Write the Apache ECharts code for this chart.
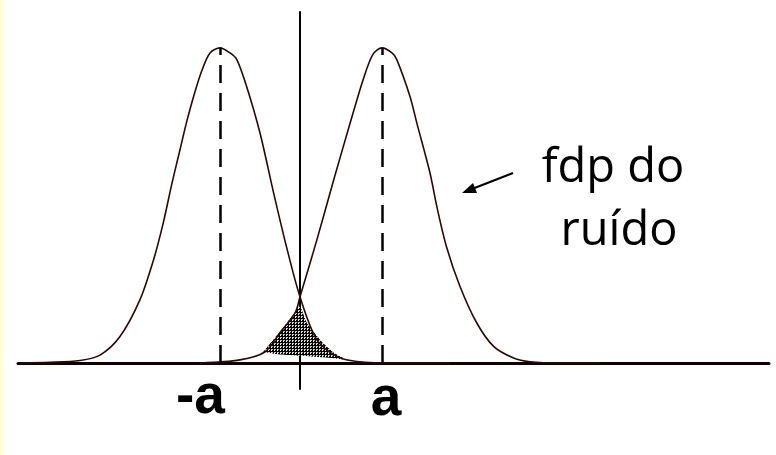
<!DOCTYPE html>
<html>
<head>
<meta charset="utf-8">
<script src="https://cdn.jsdelivr.net/npm/echarts@6/dist/echarts.min.js"></script>
<style>
  html, body { margin: 0; padding: 0; background: #ffffff; }
  #chart { width: 776px; height: 455px; }
</style>
</head>
<body>
<div id="chart"></div>
<script>
// x in units of a (80 px per unit, origin at the vertical axis), y normalised to peak height
const leftX = [-3.5, -3.125, -2.75, -2.5, -2.25, -2.0, -1.83, -1.71, -1.6, -1.5, -1.42, -1.33,
  -1.23, -1.125, -1.0, -0.875, -0.79, -0.67, -0.5, -0.33, -0.17, 0.0, 0.21, 0.46, 0.71, 1.25, 1.88];
const leftY = [0, 0.002, 0.008, 0.025, 0.084, 0.201, 0.328, 0.444, 0.571, 0.677, 0.762, 0.846,
  0.926, 0.984, 1.0, 0.984, 0.963, 0.88, 0.73, 0.54, 0.37, 0.21, 0.074, 0.021, 0.005, 0, 0];

const rightX = [-1.25, -0.75, -0.44, -0.25, -0.06, 0.0, 0.21, 0.42, 0.625, 0.79, 0.91, 1.025,
  1.15, 1.21, 1.375, 1.46, 1.625, 1.71, 1.83, 2.0, 2.21, 2.42, 2.67, 2.875, 3.25, 3.75];
const rightY = [0, 0.01, 0.035, 0.096, 0.16, 0.21, 0.39, 0.58, 0.76, 0.9, 0.979, 1.0,
  0.984, 0.963, 0.846, 0.762, 0.603, 0.497, 0.37, 0.243, 0.127, 0.053, 0.016, 0.004, 0, 0];

// dotted overlap region: top edge left->right, then bottom edge right->left
const shadeTopX = [-0.46, -0.25, -0.08, 0, 0.08, 0.25, 0.42, 0.58];
const shadeTopY = [0.035, 0.1, 0.155, 0.18, 0.13, 0.074, 0.033, 0.01];
const shadeBottomX = [0.58, 0.3, 0, -0.25, -0.46];
const shadeBottomY = [0.01, 0.018, 0.023, 0.027, 0.035];

const peakX = [-1.0, 1.025];
const peakY = [1.0, 1.0];

const tickLabels = ["-a", "a"];
const noteLines = ["fdp do", "ruído"];

const zip = (xs, ys) => xs.map((x, i) => [x, ys[i]]);

function dotPattern() {
  const c = document.createElement("canvas");
  c.width = 3;
  c.height = 3;
  const ctx = c.getContext("2d");
  ctx.fillStyle = "#000000";
  ctx.fillRect(0, 0, 3, 3);
  ctx.fillStyle = "#c8c8c8";
  ctx.fillRect(1, 1, 2, 1);
  ctx.fillStyle = "#ffffff";
  ctx.fillRect(1, 2, 1, 1);
  return { type: "pattern", image: c, repeat: "repeat" };
}

const curveStyle = { color: "#2a0808", width: 1.6 };
const dashStyle = { color: "#000000", width: 2.5, type: [18, 10] };

const chart = echarts.init(document.getElementById("chart"), null, { renderer: "canvas" });
const pattern = dotPattern();

chart.setOption({
  animation: false,
  backgroundColor: "#ffffff",
  grid: { left: 18, right: 7, top: 12, bottom: 66 },
  xAxis: {
    type: "value",
    min: -3.525,
    max: 5.8625,
    axisLine: { show: true, onZero: true, lineStyle: { color: "#120000", width: 3 } },
    axisTick: { show: false },
    axisLabel: { show: false },
    splitLine: { show: false }
  },
  yAxis: {
    type: "value",
    min: -0.0825,
    max: 1.114,
    axisLine: { show: true, onZero: true, lineStyle: { color: "#000000", width: 2 } },
    axisTick: { show: false },
    axisLabel: { show: false },
    splitLine: { show: false }
  },
  series: [
    {
      type: "custom",
      name: "overlap",
      silent: true,
      clip: false,
      data: [[0, 0]],
      renderItem: function (params, api) {
        const pts = zip(shadeTopX, shadeTopY)
          .concat(zip(shadeBottomX, shadeBottomY))
          .map((p) => api.coord(p));
        return {
          type: "polygon",
          shape: { points: pts, smooth: 0.2 },
          style: { fill: pattern, stroke: null }
        };
      }
    },
    {
      type: "line",
      name: "-a",
      data: zip(leftX, leftY),
      smooth: 0.3,
      symbol: "none",
      lineStyle: curveStyle,
      markLine: {
        silent: true,
        symbol: "none",
        label: { show: false },
        lineStyle: dashStyle,
        data: peakX.map((x, i) => [{ coord: [x, 0] }, { coord: [x, peakY[i]] }])
      }
    },
    {
      type: "line",
      name: "a",
      data: zip(rightX, rightY),
      smooth: 0.3,
      symbol: "none",
      lineStyle: curveStyle
    }
  ],
  graphic: [
    { type: "rect", shape: { x: 0, y: 0, width: 4, height: 455 }, style: { fill: "#ffffdc" }, silent: true },
    {
      type: "text",
      style: { x: 176, y: 398, text: tickLabels[0], font: "bold 55px 'Liberation Sans', Arial, sans-serif",
        fill: "#000000", textAlign: "left", textVerticalAlign: "middle" }
    },
    {
      type: "text",
      style: { x: 386, y: 400, text: tickLabels[1], font: "bold 55px 'Liberation Sans', Arial, sans-serif",
        fill: "#000000", textAlign: "center", textVerticalAlign: "middle" }
    },
    {
      type: "text",
      style: { x: 613, y: 169, text: noteLines[0], font: "47px 'Open Sans', sans-serif",
        fill: "#000000", textAlign: "center", textVerticalAlign: "middle" }
    },
    {
      type: "text",
      style: { x: 619, y: 232, text: noteLines[1], font: "47px 'Open Sans', sans-serif",
        fill: "#000000", textAlign: "center", textVerticalAlign: "middle" }
    },
    {
      type: "line",
      shape: { x1: 513, y1: 173, x2: 472, y2: 189 },
      style: { stroke: "#000000", lineWidth: 2.2 }
    },
    {
      type: "polygon",
      shape: { points: [[462, 193], [477, 193], [473, 183]] },
      style: { fill: "#000000" }
    }
  ]
});
</script>
</body>
</html>
